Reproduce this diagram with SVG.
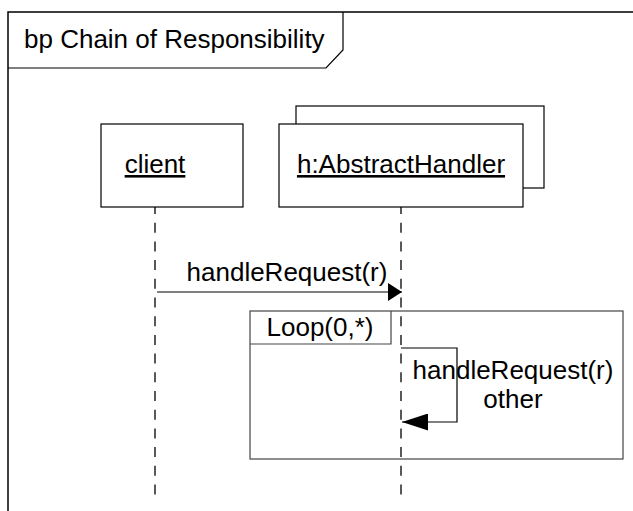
<svg xmlns="http://www.w3.org/2000/svg" width="633" height="511" viewBox="0 0 633 511">
<style>
text{font-family:"Liberation Sans",Arial,sans-serif;font-size:26px;fill:#000}
.box{fill:#fff;stroke:#000;stroke-width:1.2}
.life{stroke:#000;stroke-width:1.3;stroke-dasharray:10,8.7;stroke-dashoffset:3;fill:none}
.msg{stroke:#000;stroke-width:1.2;fill:none}
.frag{fill:none;stroke:#444;stroke-width:1.2}
.u{text-decoration:underline}
</style>
<defs>
<marker id="ah" viewBox="0 0 14 18" refX="14" refY="9" markerWidth="14" markerHeight="18" markerUnits="userSpaceOnUse" orient="auto">
<path d="M0,0 L14,9 L0,18 Z" fill="#000"/>
</marker>
<marker id="ah2" viewBox="0 0 26 17" refX="26" refY="8.5" markerWidth="26" markerHeight="17" markerUnits="userSpaceOnUse" orient="auto">
<path d="M0,0 L26,8.5 L0,17 Z" fill="#000"/>
</marker>
</defs>
<g id="frame">
<path d="M8,511 L8,12 L633,12" fill="none" stroke="#000" stroke-width="1.5"/>
<path d="M8,68 L326,68 L343,50 L343,12" fill="none" stroke="#000" stroke-width="1.2"/>
<text x="24" y="48">bp Chain of Responsibility</text>
</g>
<g id="client">
<rect class="box" x="101" y="124" width="142" height="83"/>
<text class="u" x="155" y="173" text-anchor="middle">client</text>
</g>
<g id="handler">
<rect class="box" x="296" y="106" width="248" height="82"/>
<rect class="box" x="279" y="124" width="244" height="83"/>
<text class="u" x="401" y="173" text-anchor="middle">h:AbstractHandler</text>
</g>
<g id="loop">
<rect class="frag" x="250" y="311" width="373" height="148"/>
<path class="frag" d="M250,344 L391,344 L391,311"/>
<text x="320" y="336" text-anchor="middle">Loop(0,*)</text>
</g>
<g id="connectors">
<line class="life" x1="155" y1="207" x2="155" y2="497"/>
<line class="life" x1="401" y1="207" x2="401" y2="497"/>
<line class="msg" x1="157" y1="292" x2="402" y2="292" marker-end="url(#ah)"/>
<text x="287" y="281" text-anchor="middle">handleRequest(r)</text>
<path class="msg" d="M401,348 L457,348 L457,422 L402,422" marker-end="url(#ah2)"/>
<text x="513" y="379" text-anchor="middle">handleRequest(r)</text>
<text x="513" y="408" text-anchor="middle">other</text>
</g>
</svg>
